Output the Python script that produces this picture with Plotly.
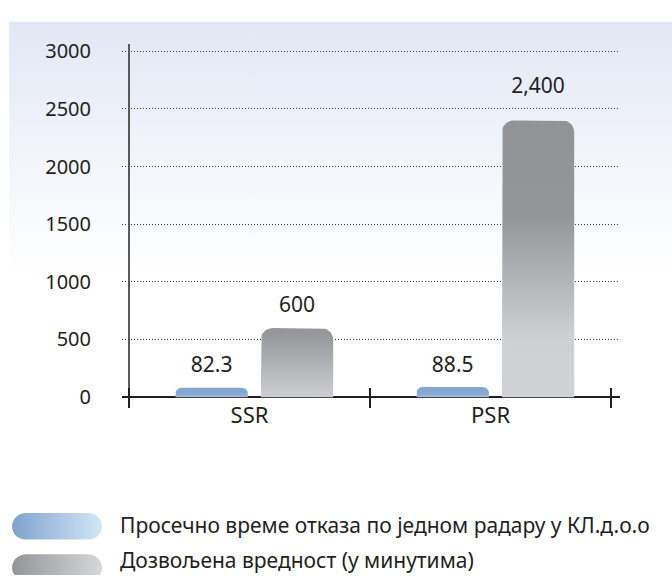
import base64
import numpy as np
import plotly.graph_objects as go

# ---------------- data ----------------
categories = ["SSR", "PSR"]
avg_outage = [82.3, 88.5]          # Просечно време отказа
allowed_value = [600, 2400]        # Дозвољена вредност
series_names = [
    "Просечно време отказа по једном радару у КЛ.д.о.о",
    "Дозвољена вредност (у минутима)",
]
y_ticks = [0, 500, 1000, 1500, 2000, 2500, 3000]

# ---------------- layout geometry / styles ----------------
W, H = 672, 578
PX_L, PX_R = 122, 620          # plot area left/right (px)
PX_T, PX_B = 38, 407           # plot area top/bottom (px)
PX_ZERO, PX_TOP_TICK = 397, 45 # pixel rows of y=0 and y=3000
XR = [-0.529, 1.537]
ppu_y = (PX_ZERO - PX_TOP_TICK) / y_ticks[-1]
YR = [-(PX_B - PX_ZERO) / ppu_y, y_ticks[-1] + (PX_TOP_TICK - PX_T) / ppu_y]
ppu_x = (PX_R - PX_L) / (XR[1] - XR[0])

BAR_W = 0.30
OFFSETS = [-0.157, 0.197]
RADII = [6, 12]
LABEL_GAP_PX = [[21, 21], [22, 33]]   # label centre above bar top, px
TXT = "#231f20"
FONT = "Noto Sans"

BLUE_SCALE = [[0, "#c8dbef"], [1, "#84a8d0"]]
GRAY_SCALES = [
    [[0, "#d2d3d5"], [1, "#96979a"]],
    [[0, "#d1d2d4"], [0.23, "#cfd0d2"], [0.67, "#949598"], [1, "#929396"]],
]


def rounded_bar(xc, w, h, r_px, n=10):
    rx = r_px / ppu_x
    ry = min(r_px / ppu_y, h)
    x0, x1 = xc - w / 2, xc + w / 2
    xs, ys = [x0], [0]
    for a in np.linspace(np.pi, np.pi / 2, n):
        xs.append(x0 + rx + rx * np.cos(a))
        ys.append(h - ry + ry * np.sin(a))
    for a in np.linspace(np.pi / 2, 0, n):
        xs.append(x1 - rx + rx * np.cos(a))
        ys.append(h - ry + ry * np.sin(a))
    xs += [x1, x0]
    ys += [0, 0]
    return xs, ys


def pill(x0, x1, y0, y1, n=14):
    r = (y1 - y0) / 2
    xs, ys = [], []
    for a in np.linspace(np.pi / 2, 3 * np.pi / 2, n):
        xs.append(x0 + r + r * np.cos(a)); ys.append(y0 + r - r * np.sin(a))
    for a in np.linspace(-np.pi / 2, np.pi / 2, n):
        xs.append(x1 - r + r * np.cos(a)); ys.append(y0 + r - r * np.sin(a))
    xs.append(xs[0]); ys.append(ys[0])
    return xs, ys


fig = go.Figure()

# bars (gradient-filled, rounded tops)
series = [avg_outage, allowed_value]
for si, vals in enumerate(series):
    for ci, v in enumerate(vals):
        xs, ys = rounded_bar(ci + OFFSETS[si], BAR_W, v, RADII[si])
        scale = BLUE_SCALE if si == 0 else GRAY_SCALES[ci]
        fig.add_trace(go.Scatter(
            x=xs, y=ys, mode="lines", fill="toself",
            line=dict(width=0),
            fillgradient=dict(type="vertical", colorscale=scale, start=0, stop=v),
            showlegend=False, hoverinfo="skip",
        ))

# value labels
for si, vals in enumerate(series):
    fmt = "{:,.1f}" if si == 0 else "{:,.0f}"
    fig.add_trace(go.Scatter(
        x=[ci + OFFSETS[si] for ci in range(len(categories))],
        y=[v + LABEL_GAP_PX[si][ci] / ppu_y for ci, v in enumerate(vals)],
        mode="text",
        text=[fmt.format(v) for v in vals],
        textposition="middle center",
        textfont=dict(family=FONT, size=21, color=TXT),
        showlegend=False, hoverinfo="skip", cliponaxis=False,
    ))

# custom legend swatches (pixel-space helper axes)
LEG_SCALES = [[[0, "#7fa3ce"], [1, "#d3e6f7"]], [[0, "#949598"], [1, "#d6d7d9"]]]
LEG_ROWS = [(515, 542), (557, 584)]
LEG_TEXT_Y = [527, 563]
for i, (y0, y1) in enumerate(LEG_ROWS):
    xs, ys = pill(12, 102, y0, y1)
    fig.add_trace(go.Scatter(
        x=xs, y=ys, xaxis="x2", yaxis="y2", mode="lines", fill="toself",
        line=dict(width=0),
        fillgradient=dict(type="horizontal", colorscale=LEG_SCALES[i], start=12, stop=102),
        showlegend=False, hoverinfo="skip",
    ))
    fig.add_annotation(
        x=118 / W, y=1 - LEG_TEXT_Y[i] / H, xref="paper", yref="paper",
        text=series_names[i], showarrow=False, xanchor="left", yanchor="middle",
        font=dict(family=FONT, size=21, color=TXT),
    )

# background gradient panel
svg = (
    '<svg xmlns="http://www.w3.org/2000/svg" width="663" height="260">'
    '<defs><linearGradient id="g" x1="0" y1="0" x2="0" y2="1">'
    '<stop offset="0" stop-color="#e1e7f4"/><stop offset="0.55" stop-color="#f3f5fb"/>'
    '<stop offset="1" stop-color="#ffffff"/></linearGradient></defs>'
    '<rect width="663" height="260" fill="url(#g)"/></svg>'
)
src = "data:image/svg+xml;base64," + base64.b64encode(svg.encode()).decode()
fig.add_layout_image(dict(
    source=src, xref="paper", yref="paper", x=9 / W, y=1 - 15 / H,
    sizex=663 / W, sizey=260 / H, sizing="stretch", xanchor="left", yanchor="top",
    layer="below",
))

fig.update_layout(
    width=W, height=H, margin=dict(l=0, r=0, t=0, b=0),
    paper_bgcolor="white", plot_bgcolor="rgba(0,0,0,0)",
    showlegend=False,
    font=dict(family=FONT, color=TXT),
    xaxis=dict(
        domain=[PX_L / W, PX_R / W], range=XR, type="linear",
        anchor="free", position=1 - (PX_ZERO - 10) / H,
        tickvals=list(range(len(categories))), ticktext=categories,
        ticks="", showline=False, showgrid=False, zeroline=False,
        tickfont=dict(family=FONT, size=22, color=TXT),
        ticklabelstandoff=13,
        minor=dict(tickvals=[i - 0.5 for i in range(len(categories) + 1)],
                   ticks="outside", ticklen=20, tickwidth=1.3, tickcolor=TXT,
                   showgrid=False),
        fixedrange=True,
    ),
    yaxis=dict(
        domain=[1 - PX_B / H, 1 - PX_T / H], range=YR,
        anchor="free", position=129 / W,
        tickvals=y_ticks, tickformat="d", ticks="",
        showline=True, linecolor="#58595b", linewidth=2,
        showgrid=True, gridcolor="#3a3a3a", gridwidth=1, griddash="1px,2px",
        zeroline=True, zerolinecolor=TXT, zerolinewidth=1.3,
        tickfont=dict(family=FONT, size=20, color=TXT),
        ticklabelstandoff=33,
        fixedrange=True,
    ),
    xaxis2=dict(domain=[0, 1], range=[0, W], visible=False, anchor="y2", fixedrange=True),
    yaxis2=dict(domain=[0, 88 / H], range=[H, 490], visible=False, anchor="x2", fixedrange=True),
)

fig.write_html(
    "out.html",
    config={"displayModeBar": False, "staticPlot": True},
    post_script="document.body.style.margin='0';document.body.style.overflow='hidden';",
)
